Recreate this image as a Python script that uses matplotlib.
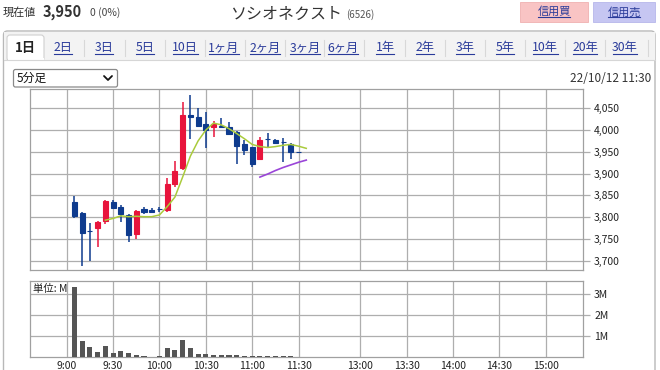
import matplotlib
matplotlib.use("Agg")
import matplotlib.pyplot as plt
from matplotlib.patches import FancyBboxPatch, Rectangle
from matplotlib.lines import Line2D

plt.rcParams['font.family'] = ['Noto Sans CJK JP', 'DejaVu Sans']

# ---------------- data ----------------
bar_index = list(range(1, 31))
opens  = [3835, 3810, 3769, 3774, 3792, 3835, 3824, 3805, 3762, 3818,
          3817, 3818, 3816, 3877, 3913, 4035, 4031, 4015, 4006, 4009,
          4006, 3996, 3969, 3960, 3933, 3979, 3977, 3973, 3967, 3950]
highs  = [3849, 3812, 3786, 3792, 3839, 3839, 3829, 3808, 3816, 3824,
          3820, 3824, 3889, 3929, 4065, 4080, 4050, 4042, 4021, 4027,
          4019, 3998, 3977, 3961, 3983, 3993, 3979, 3981, 3970, 3950]
lows   = [3799, 3688, 3699, 3732, 3784, 3818, 3789, 3743, 3749, 3808,
          3810, 3812, 3812, 3870, 3908, 3979, 4008, 3958, 3983, 4004,
          3989, 3923, 3942, 3916, 3931, 3962, 3968, 3927, 3933, 3950]
closes = [3803, 3763, 3769, 3789, 3836, 3820, 3808, 3759, 3814, 3812,
          3812, 3818, 3877, 3906, 4035, 4030, 4010, 4000, 4015, 4006,
          3990, 3964, 3954, 3923, 3977, 3979, 3970, 3973, 3950, 3950]
volumes = [3.33, 0.75, 0.48, 0.24, 0.52, 0.19, 0.27, 0.19, 0.10, 0.06,
           0.02, 0.06, 0.43, 0.32, 0.79, 0.43, 0.14, 0.14, 0.10, 0.08,
           0.08, 0.10, 0.03, 0.06, 0.06, 0.03, 0.03, 0.06, 0.06, 0.02]

ma_short_index = list(range(5, 32))
ma_short = [3793, 3797, 3803, 3801, 3802, 3801, 3801, 3805, 3824, 3846,
            3892, 3940, 3975, 4000, 4016, 4012, 4003, 3992, 3980, 3967,
            3962, 3960, 3962, 3965, 3967, 3963, 3958]
ma_long_index = list(range(25, 32))
ma_long = [3892, 3899, 3907, 3914, 3920, 3926, 3931]

time_labels = ["9:00", "9:30", "10:00", "10:30", "11:00", "11:30",
               "13:00", "13:30", "14:00", "14:30", "15:00"]
price_ticks = [3700, 3750, 3800, 3850, 3900, 3950, 4000, 4050]
vol_ticks = [1, 2, 3]
vol_tick_labels = ["1M", "2M", "3M"]

tabs = ["1日", "2日", "3日", "5日", "10日", "1ヶ月", "2ヶ月", "3ヶ月", "6ヶ月",
        "1年", "2年", "3年", "5年", "10年", "20年", "30年"]

def time_pos(t):
    h, m = map(int, t.split(":"))
    mins = h * 60 + m
    if mins <= 690:
        return (mins - 540) / 5.0
    return (mins - 780) / 5.0 + 38

# ---------------- figure ----------------
W, H = 660, 370
fig = plt.figure(figsize=(W / 100, H / 100), dpi=100)
fig.patch.set_facecolor("white")

bg = fig.add_axes([0, 0, 1, 1], zorder=0)
bg.set_xlim(0, W)
bg.set_ylim(H, 0)
bg.axis("off")

# outer frame
bg.add_patch(FancyBboxPatch((3.5, 31), 651.5, 345, boxstyle="round,pad=0,rounding_size=4",
                            facecolor="white", edgecolor="#b8b8b8", lw=1))
# tab bar background
bg.add_patch(Rectangle((4.2, 31.7), 650.3, 28.3, facecolor="#f3f3f3", edgecolor="none"))
bg.add_line(Line2D([4.2, 654.5], [60, 60], color="#d6d6d6", lw=0.8))
# selected tab
bg.add_patch(FancyBboxPatch((7, 35), 37, 26, boxstyle="round,pad=0,rounding_size=3",
                            facecolor="white", edgecolor="#d0d0d0", lw=0.8))
bg.add_patch(Rectangle((7.5, 58), 36, 4, facecolor="white", edgecolor="none"))

tab_x = [25, 63, 104, 145, 185, 224, 265, 305, 343, 385, 425, 465, 505, 545, 585, 625]
link_texts = []
for i, (lab, x) in enumerate(zip(tabs, tab_x)):
    if i == 0:
        bg.text(x, 48, lab, ha="center", va="center", fontsize=9.5, fontweight="bold", color="#222")
    else:
        t = bg.text(x, 48, lab, ha="center", va="center", fontsize=8.8, color="#2a3b9a")
        link_texts.append(t)
    if i >= 2:
        sx = (tab_x[i - 1] + x) / 2
        bg.add_line(Line2D([sx, sx], [40, 56], color="#d8d8d8", lw=0.8))
bg.add_line(Line2D([648, 648], [40, 56], color="#d8d8d8", lw=0.8))

# header
bg.text(3, 13, "現在値", ha="left", va="center", fontsize=8, color="#333")
bg.text(43, 12, "3,950", ha="left", va="center", fontsize=10.5, fontweight="bold", color="#333")
bg.text(90, 13, "0 (0%)", ha="left", va="center", fontsize=7.5, color="#444")
bg.text(286, 14, "ソシオネクスト", ha="center", va="center", fontsize=11.5, color="#333")
bg.text(346, 15, "(6526)", ha="left", va="center", fontsize=7, color="#555")

bg.add_patch(Rectangle((520, 2), 68, 20, facecolor="#f9c4c4", edgecolor="#f0b0b0", lw=0.6))
bg.add_patch(Rectangle((593, 2), 62, 20, facecolor="#c6c6f2", edgecolor="#b6b6ea", lw=0.6))
b1 = bg.text(554, 12, "信用買", ha="center", va="center", fontsize=8, color="#2a3b9a")
b2 = bg.text(624, 12, "信用売", ha="center", va="center", fontsize=8, color="#2a3b9a")
link_texts += [b1, b2]

# dropdown
bg.add_patch(FancyBboxPatch((13.5, 69.5), 104, 17.5, boxstyle="round,pad=0,rounding_size=2",
                            facecolor="white", edgecolor="#8a8a8a", lw=0.9))
bg.text(17, 78, "5分足", ha="left", va="center", fontsize=8.5, color="#111")
bg.plot([104, 108, 112], [76, 80, 76], color="#111", lw=1.3, solid_capstyle="round")
bg.text(651, 78, "22/10/12 11:30", ha="right", va="center", fontsize=8.5, color="#333")

# ---------------- chart axes ----------------
XL = (-4.75, 66.81)
grid_c = "#aeaeae"
frame_c = "#a0a0a0"

def fx(px):
    return px / W

def fy(py):
    return 1 - py / H

ax = fig.add_axes([fx(30), fy(270), fx(583) - fx(30), fy(89) - fy(270)], zorder=2)
axv = fig.add_axes([fx(30), fy(357), fx(583) - fx(30), fy(281) - fy(357)], zorder=2)

tpos = [time_pos(t) for t in time_labels]

for a in (ax, axv):
    a.set_xlim(*XL)
    a.set_facecolor("white")
    for s in a.spines.values():
        s.set_color(frame_c)
        s.set_linewidth(0.9)
    a.yaxis.tick_right()
    a.tick_params(axis="y", length=5, width=0.9, color=grid_c, labelsize=7.5,
                  labelcolor="#222", pad=3)
    a.set_xticks(tpos)
    for p in tpos:
        a.axvline(p, color=grid_c, lw=0.9, zorder=0)

ax.set_ylim(3678.6, 4094.3)
ax.set_yticks(price_ticks)
ax.set_yticklabels([f"{v:,}" for v in price_ticks])
for v in price_ticks:
    ax.axhline(v, color=grid_c, lw=0.9, zorder=0)
ax.tick_params(axis="x", length=0, labelbottom=False)

up_c = "#e8143c"
dn_c = "#0e3b8e"
bw = 0.66
for i, o, h, l, c in zip(bar_index, opens, highs, lows, closes):
    col = up_c if c > o else dn_c
    ax.vlines(i, l, h, color=col, lw=1.1, zorder=3)
    lo, hi = min(o, c), max(o, c)
    ax.bar(i, hi - lo, bottom=lo, width=bw, color=col, edgecolor=col, lw=0.8, zorder=4)

ax.plot(ma_short_index, ma_short, color="#aacb3c", lw=1.1, zorder=5)
ax.plot(ma_long_index, ma_long, color="#9a45d8", lw=1.2, zorder=5)

# volume
axv.set_ylim(0, 3.6)
axv.set_yticks(vol_ticks)
axv.set_yticklabels(vol_tick_labels)
for v in vol_ticks:
    axv.axhline(v, color=grid_c, lw=0.9, zorder=0)
axv.bar(bar_index, volumes, width=bw, color="#555555", zorder=3)
axv.set_xticklabels(time_labels)
axv.tick_params(axis="x", length=0, labelsize=7.5, labelcolor="#222", pad=3)
axv.text(0.006, 0.9, "単位: M", transform=axv.transAxes, ha="left", va="center",
         fontsize=7.5, color="#222", zorder=6)

# underline links
fig.canvas.draw()
r = fig.canvas.get_renderer()
inv = bg.transData.inverted()
for t in link_texts:
    bb = t.get_window_extent(r)
    (x0, y0), (x1, y1) = inv.transform([(bb.x0, bb.y0), (bb.x1, bb.y1)])
    yb = max(y0, y1) - 0.5
    bg.add_line(Line2D([x0 + 0.5, x1 - 0.5], [yb, yb], color=t.get_color(), lw=0.8))

fig.savefig("out.png", dpi=100)
